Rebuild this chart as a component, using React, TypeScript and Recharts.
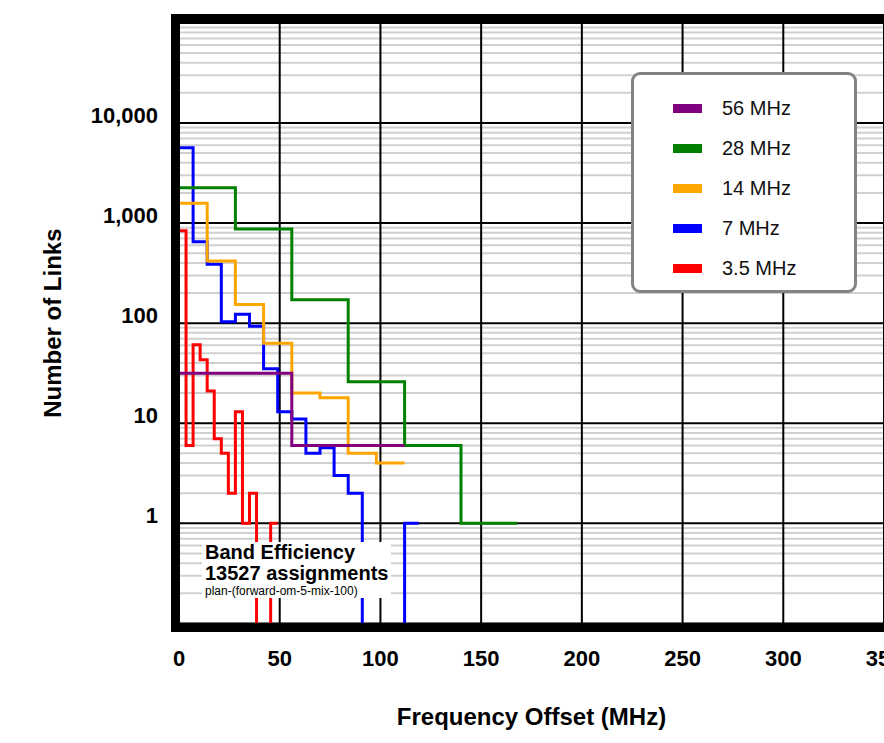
import { LineChart, Line, XAxis, YAxis, CartesianGrid, Legend } from 'recharts';

// bin start offsets (MHz) and link counts per channel width
const offsets35 = [0, 3.5, 7, 10.5, 14, 17.5, 21, 24.5, 28, 31.5, 35, 38.5, 42, 45.5, 49];
const links35 = [840, 6, 61, 43, 21, 7, 5, 2, 13, 1, 2, 0, 0, 1, 1];

const offsets7 = [0, 7, 14, 21, 28, 35, 42, 49, 56, 63, 70, 77, 84, 91, 98, 105, 112, 119];
const links7 = [5650, 650, 387, 103, 123, 93, 35, 13, 11, 5, 5.7, 3, 2, 0, 0, 0, 1, 1];

const offsets14 = [0, 14, 28, 42, 56, 70, 84, 98, 112];
const links14 = [1575, 417, 154, 63, 20, 18, 5, 4, 4];

const offsets28 = [0, 28, 56, 84, 112, 140, 168];
const links28 = [2250, 870, 171, 26, 6, 1, 1];

const offsets56 = [0, 56, 112];
const links56 = [31.5, 6, 6];

const xTicks = [0, 50, 100, 150, 200, 250, 300, 350];
const yTicks = [1, 10, 100, 1000, 10000];
const decades = [0.1, 1, 10, 100, 1000, 10000];
const minorSteps = [2, 3, 4, 5, 6, 7, 8, 9];
const minorTicks = decades.flatMap((d) => minorSteps.map((m) => +(d * m).toPrecision(3)));

const legendOrder = ['56 MHz', '28 MHz', '14 MHz', '7 MHz', '3.5 MHz'];

// log axis cannot show 0, push empty bins below the plot floor
const EMPTY = 0.01;
const toPoints = (xs: number[], ys: number[]) =>
  xs.map((x, i) => ({ offset: x, links: ys[i] > 0 ? ys[i] : EMPTY }));

const FONT = '"Liberation Sans", Arial, Helvetica, sans-serif';

const XTick = (props: any) => (
  <text x={props.x} y={props.y} dy={43} textAnchor="middle" fontFamily={FONT} fontSize={22} fontWeight="bold" fill="#000">
    {props.payload.value}
  </text>
);

const YTick = (props: any) => (
  <text x={props.x} y={props.y} textAnchor="end" fontFamily={FONT} fontSize={22} fontWeight="bold" fill="#000">
    {Number(props.payload.value).toLocaleString('en-US')}
  </text>
);

const LegendBox = ({ payload }: any) => {
  const items = legendOrder
    .map((name) => (payload || []).find((p: any) => p.value === name))
    .filter(Boolean);
  return (
    <div
      style={{
        width: 226,
        height: 221,
        boxSizing: 'border-box',
        border: '3px solid #838383',
        borderRadius: 9,
        background: '#fff',
        paddingTop: 13,
      }}
    >
      {items.map((it: any) => (
        <div key={it.value} style={{ height: 40, display: 'flex', alignItems: 'center', paddingLeft: 39 }}>
          <span style={{ display: 'inline-block', width: 29, height: 9, background: it.color, marginRight: 20 }} />
          <span style={{ fontFamily: FONT, fontSize: 20, color: '#111' }}>{it.value}</span>
        </div>
      ))}
    </div>
  );
};

export default function App() {
  return (
    <div style={{ position: 'absolute', left: 0, top: 0, width: 884, height: 743, overflow: 'hidden', background: '#fff' }}>
      <LineChart width={884} height={743} margin={{ top: 22.9, right: 0, bottom: 59.6, left: 79 }}>
        <CartesianGrid yAxisId="minor" vertical={false} stroke="#d0d0d0" strokeWidth={2} />
        <CartesianGrid stroke="#000" strokeWidth={2} />
        <XAxis
          dataKey="offset"
          type="number"
          domain={[0, 350]}
          ticks={xTicks}
          interval={0}
          allowDataOverflow
          height={60}
          tickSize={0}
          tickMargin={0}
          axisLine={false}
          tickLine={false}
          tick={<XTick />}
          label={{
            content: ({ viewBox }: any) => (
              <text
                x={viewBox.x + viewBox.width / 2}
                y={viewBox.y + 102}
                textAnchor="middle"
                fontFamily={FONT}
                fontSize={24}
                fontWeight="bold"
                fill="#000"
              >
                Frequency Offset (MHz)
              </text>
            ),
          }}
        />
        <YAxis
          scale="log"
          domain={[0.1, 100000]}
          ticks={yTicks}
          interval={0}
          allowDataOverflow
          width={100}
          tickSize={0}
          tickMargin={21}
          axisLine={false}
          tickLine={false}
          tick={<YTick />}
          label={{
            content: ({ viewBox }: any) => {
              const cx = viewBox.x - 18;
              const cy = viewBox.y + viewBox.height / 2;
              return (
                <text
                  x={cx}
                  y={cy}
                  transform={`rotate(-90 ${cx} ${cy})`}
                  textAnchor="middle"
                  fontFamily={FONT}
                  fontSize={24}
                  fontWeight="bold"
                  fill="#000"
                >
                  Number of Links
                </text>
              );
            },
          }}
        />
        <YAxis yAxisId="minor" hide scale="log" domain={[0.1, 100000]} ticks={minorTicks} interval={0} allowDataOverflow />
        <Legend
          layout="vertical"
          align="center"
          verticalAlign="middle"
          content={<LegendBox />}
          wrapperStyle={{ position: 'absolute', left: 631, top: 72, width: 226, height: 221 }}
        />
        <Line data={toPoints(offsets35, links35)} dataKey="links" name="3.5 MHz" type="stepAfter" stroke="#ff0000" strokeWidth={3} dot={false} isAnimationActive={false} />
        <Line data={toPoints(offsets7, links7)} dataKey="links" name="7 MHz" type="stepAfter" stroke="#0000ff" strokeWidth={3} dot={false} isAnimationActive={false} />
        <Line data={toPoints(offsets14, links14)} dataKey="links" name="14 MHz" type="stepAfter" stroke="#ffa500" strokeWidth={3} dot={false} isAnimationActive={false} />
        <Line data={toPoints(offsets28, links28)} dataKey="links" name="28 MHz" type="stepAfter" stroke="#008000" strokeWidth={3} dot={false} isAnimationActive={false} />
        <Line data={toPoints(offsets56, links56)} dataKey="links" name="56 MHz" type="stepAfter" stroke="#800080" strokeWidth={3} dot={false} isAnimationActive={false} />
      </LineChart>

      {/* heavy plot frame */}
      <div
        style={{
          position: 'absolute',
          left: 171,
          top: 14,
          width: 740,
          height: 600,
          border: '9px solid #000',
          pointerEvents: 'none',
        }}
      />

      {/* annotation */}
      <div
        style={{
          position: 'absolute',
          left: 202,
          top: 542,
          padding: '0 3px',
          background: '#fff',
          fontFamily: FONT,
          color: '#000',
        }}
      >
        <div style={{ fontSize: 20, fontWeight: 'bold', lineHeight: '21px' }}>Band Efficiency</div>
        <div style={{ fontSize: 20, fontWeight: 'bold', lineHeight: '21px' }}>13527 assignments</div>
        <div style={{ fontSize: 12, lineHeight: '14px' }}>plan-(forward-om-5-mix-100)</div>
      </div>
    </div>
  );
}
